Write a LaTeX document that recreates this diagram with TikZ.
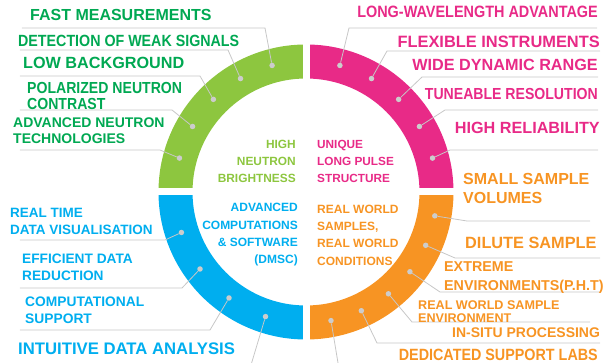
\documentclass[tikz,border=0pt]{standalone}
\usepackage{fontspec}
\setmainfont{Liberation Sans}
\newfontfamily\narrowfont{Liberation Sans}[FakeStretch=0.88]

\definecolor{esslime}{RGB}{141,198,63}
\definecolor{essgreen}{RGB}{0,168,82}
\definecolor{esspink}{RGB}{232,42,135}
\definecolor{essblue}{RGB}{0,174,239}
\definecolor{essorange}{RGB}{247,148,35}

\newcommand{\lblsize}[2]{\fontsize{#1}{#2}\selectfont\bfseries}
\newcommand{\narrowsize}[2]{\narrowfont\fontsize{#1}{#2}\selectfont\bfseries}

\begin{document}
\begin{tikzpicture}[x=1pt,y=1pt,
        spot/.style={circle,fill=black!20,inner sep=0pt,minimum size=5.5pt},
        lead/.style={draw=black!22,line width=0.8pt},
        lbl/.style={inner sep=0pt,align=left},
        rlbl/.style={inner sep=0pt,align=right}]

  \useasboundingbox (-306,-171) rectangle (301,192);
  \clip (-306,-171) rectangle (301,192);

  % four quarters of the ring
  \fill[esslime]   (90:147.5)  arc (90:180:147.5)  -- (180:113.5) arc (180:90:113.5)  -- cycle;
  \fill[esspink]   (0:147.5)   arc (0:90:147.5)    -- (90:113.5)  arc (90:0:113.5)    -- cycle;
  \fill[essblue]   (180:147.5) arc (180:270:147.5) -- (270:113.5) arc (270:180:113.5) -- cycle;
  \fill[essorange] (270:147.5) arc (270:360:147.5) -- (0:113.5)   arc (360:270:113.5) -- cycle;
  \draw[white,line width=7pt] (-152,0) -- (152,0) (0,-152) -- (0,152);

  % dots on the ring
  \node[spot] (g1) at (105:131) {};
  \node[spot] (g2) at (120:131) {};
  \node[spot] (g3) at (135:131) {};
  \node[spot] (g4) at (150:131) {};
  \node[spot] (g5) at (165:131) {};
  \node[spot] (p1) at (75:131) {};
  \node[spot] (p2) at (60:131) {};
  \node[spot] (p3) at (45:131) {};
  \node[spot] (p4) at (30:131) {};
  \node[spot] (p5) at (15:131) {};
  \node[spot] (o1) at (-10.5:131) {};
  \node[spot] (o2) at (-24:131) {};
  \node[spot] (o3) at (-37.5:131) {};
  \node[spot] (o4) at (-51:131) {};
  \node[spot] (o5) at (-65:131) {};
  \node[spot] (o6) at (-79:131) {};
  \node[spot] (b1) at (198:131) {};
  \node[spot] (b2) at (216:131) {};
  \node[spot] (b3) at (234:131) {};
  \node[spot] (b4) at (252:131) {};

  % elbows and ends of the leader lines
  \coordinate (g1e) at (-41,164);  \coordinate (g1s) at (-284,164);
  \coordinate (g2e) at (-78,142);  \coordinate (g2s) at (-286,142);
  \coordinate (g3e) at (-106,116); \coordinate (g3s) at (-286,116);
  \coordinate (g4e) at (-134,82);  \coordinate (g4s) at (-286,82);
  \coordinate (g5e) at (-146,42);  \coordinate (g5s) at (-286,42);
  \coordinate (p1e) at (43,164);   \coordinate (p1s) at (291,164);
  \coordinate (p2e) at (81,141);   \coordinate (p2s) at (294,141);
  \coordinate (p3e) at (116,115);  \coordinate (p3s) at (292,115);
  \coordinate (p4e) at (139,82);   \coordinate (p4s) at (292,82);
  \coordinate (p5e) at (144,42);   \coordinate (p5s) at (292,42);
  \coordinate (o1e) at (161,-29);  \coordinate (o1s) at (284,-29);
  \coordinate (o2e) at (149,-66);  \coordinate (o2s) at (294,-66);
  \coordinate (o3e) at (134,-100); \coordinate (o3s) at (294,-100);
  \coordinate (o4e) at (106,-130); \coordinate (o4s) at (284,-130);
  \coordinate (o5e) at (71,-151);  \coordinate (o5s) at (294,-151);
  \coordinate (o6e) at (34,-183);  \coordinate (o6s) at (294,-183);
  \coordinate (b1e) at (-141,-48); \coordinate (b1s) at (-286,-48);
  \coordinate (b2e) at (-124,-96); \coordinate (b2s) at (-286,-96);
  \coordinate (b3e) at (-96,-138); \coordinate (b3s) at (-286,-138);
  \coordinate (b4e) at (-58,-183); \coordinate (b4s) at (-286,-183);

  \draw[lead] (g1) -- (g1e) -- (g1s)  (g2) -- (g2e) -- (g2s)  (g3) -- (g3e) -- (g3s)
              (g4) -- (g4e) -- (g4s)  (g5) -- (g5e) -- (g5s);
  \draw[lead] (p1) -- (p1e) -- (p1s)  (p2) -- (p2e) -- (p2s)  (p3) -- (p3e) -- (p3s)
              (p4) -- (p4e) -- (p4s)  (p5) -- (p5e) -- (p5s);
  \draw[lead] (o1) -- (o1e) -- (o1s)  (o2) -- (o2e) -- (o2s)  (o3) -- (o3e) -- (o3s)
              (o4) -- (o4e) -- (o4s)  (o5) -- (o5e) -- (o5s)  (o6) -- (o6e) -- (o6s);
  \draw[lead] (b1) -- (b1e) -- (b1s)  (b2) -- (b2e) -- (b2s)  (b3) -- (b3e) -- (b3s)
              (b4) -- (b4e) -- (b4s);

  % middle of the ring
  \node[rlbl,esslime,anchor=east,font=\lblsize{11.9}{17}] (hnb) at (-10,31) {HIGH\\NEUTRON\\BRIGHTNESS};
  \node[lbl,esspink,anchor=west,font=\lblsize{11.8}{17}] (ulp) at (11,31) {UNIQUE\\LONG PULSE\\STRUCTURE};
  \node[rlbl,essblue,anchor=east,font=\lblsize{12}{17.3}] (acs) at (-8,-43) {ADVANCED\\COMPUTATIONS\\\& SOFTWARE\\(DMSC)};
  \node[lbl,essorange,anchor=west,font=\lblsize{12}{17.3}] (rws) at (11,-43) {REAL WORLD\\SAMPLES,\\REAL WORLD\\CONDITIONS};

  % green labels
  \node[lbl,essgreen,anchor=west,font=\lblsize{16}{18}] (g1t) at (-276,177) {FAST MEASUREMENTS};
  \node[lbl,essgreen,anchor=west,font=\narrowsize{16.2}{16}] (g2t) at (-288,151) {DETECTION OF WEAK SIGNALS};
  \node[lbl,essgreen,anchor=west,font=\lblsize{16.2}{18}] (g3t) at (-283,129) {LOW BACKGROUND};
  \node[lbl,essgreen,anchor=west,font=\narrowsize{16}{16}] (g4t) at (-279,96) {POLARIZED NEUTRON\\CONTRAST};
  \node[lbl,essgreen,anchor=west,font=\lblsize{14}{16}] (g5t) at (-293,61) {ADVANCED NEUTRON\\TECHNOLOGIES};

  % pink labels
  \node[rlbl,esspink,anchor=east,font=\narrowsize{16.4}{16}] (p1t) at (292,180) {LONG-WAVELENGTH ADVANTAGE};
  \node[rlbl,esspink,anchor=east,font=\lblsize{16.4}{18}] (p2t) at (294,150) {FLEXIBLE INSTRUMENTS};
  \node[rlbl,esspink,anchor=east,font=\lblsize{16.2}{18}] (p3t) at (292,127) {WIDE DYNAMIC RANGE};
  \node[rlbl,esspink,anchor=east,font=\narrowsize{16}{16}] (p4t) at (292,98) {TUNEABLE RESOLUTION};
  \node[rlbl,esspink,anchor=east,font=\lblsize{16.2}{18}] (p5t) at (294,64) {HIGH RELIABILITY};

  % orange labels
  \node[lbl,essorange,anchor=west,font=\lblsize{16}{19}] (o1t) at (157,3.5) {SMALL SAMPLE\\VOLUMES};
  \node[lbl,essorange,anchor=west,font=\lblsize{16.3}{18}] (o2t) at (159,-51) {DILUTE SAMPLE};
  \node[lbl,essorange,anchor=west,font=\lblsize{14.3}{19}] (o3t) at (138,-85.5) {EXTREME\\ENVIRONMENTS(P.H.T)};
  \node[lbl,essorange,anchor=west,font=\lblsize{12.6}{13}] (o4t) at (112,-119.5) {REAL WORLD SAMPLE\\ENVIRONMENT};
  \node[lbl,essorange,anchor=west,font=\lblsize{14}{16}] (o5t) at (146,-141) {IN-SITU PROCESSING};
  \node[rlbl,essorange,anchor=east,font=\narrowsize{16.3}{16}] (o6t) at (292,-163) {DEDICATED SUPPORT LABS};

  % blue labels
  \node[lbl,essblue,anchor=west,font=\lblsize{13.5}{17}] (b1t) at (-296,-29.5) {REAL TIME\\DATA VISUALISATION};
  \node[lbl,essblue,anchor=west,font=\lblsize{13.7}{17}] (b2t) at (-284,-75.5) {EFFICIENT DATA\\REDUCTION};
  \node[lbl,essblue,anchor=west,font=\lblsize{13.8}{17}] (b3t) at (-281,-118.5) {COMPUTATIONAL\\SUPPORT};
  \node[lbl,essblue,anchor=west,font=\lblsize{16.7}{18}] (b4t) at (-288,-157) {INTUITIVE DATA ANALYSIS};

\end{tikzpicture}
\end{document}
